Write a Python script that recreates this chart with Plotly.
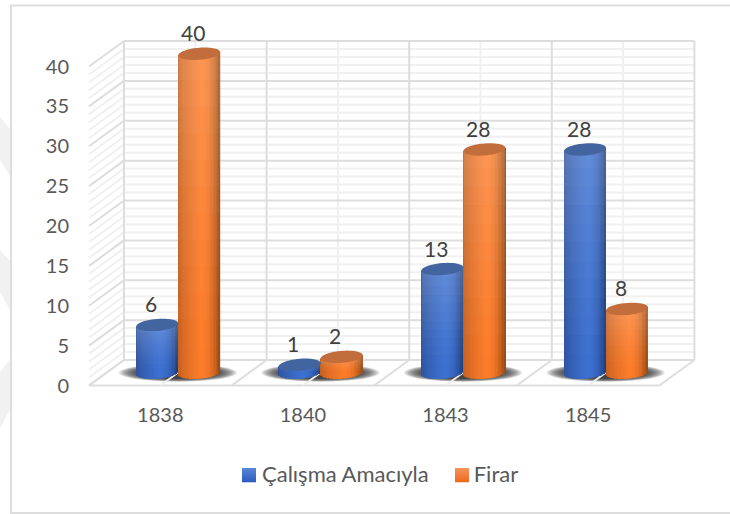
"""Kaçak işçi chart: 3D-looking cylinders on a perspective wall, built from plain bars."""
import math

import plotly.graph_objects as go

CATEGORIES = ["1838", "1840", "1843", "1845"]
CALISMA = [6, 1, 13, 28]
FIRAR = [40, 2, 28, 8]
Y_TICKS = [0, 5, 10, 15, 20, 25, 30, 35, 40]

# Pixel frame of the drawing
WIDTH, HEIGHT = 730, 514
PLOT_L, PLOT_R, PLOT_T, PLOT_B = 88, 697, 38, 389
FRONT_X0, CAT_PX = 89, 142.6
ZERO_PY, VAL_PX = 385.5, 7.975
DX = 35 / CAT_PX        # depth shift of back wall, category units
DY = 25.5 / VAL_PX      # depth shift of back wall, value units
BAR_HALF = 21 / CAT_PX
BAR_SHIFT = 0.4 / CAT_PX
CAP_H = 6 / VAL_PX
TILT = 1.6 / VAL_PX     # the ellipses lean up to the right
FONT = "Lato, Carlito, Calibri, sans-serif"

MAJOR = "#DDDDDD"
MINOR = "#F0F0F0"


def px_x(px):
    return (px - PLOT_L) / (PLOT_R - PLOT_L)


def px_y(py):
    return (PLOT_B - py) / (PLOT_B - PLOT_T)


def line(x0, y0, x1, y1, color, width=2):
    return dict(type="line", x0=x0, y0=y0, x1=x1, y1=y1, layer="below",
                line=dict(color=color, width=width))


def mix(c1, c2, t):
    return tuple(a + (b - a) * t for a, b in zip(c1, c2))


def rgb(c):
    return "rgb(%d,%d,%d)" % tuple(round(v) for v in c)


def shade(t, edge_l, mid, edge_r):
    # t runs -1..1 across the cylinder, brightest just right of the middle
    if t < 0.1:
        return rgb(mix(edge_l, mid, ((t + 1) / 1.1) ** 0.6))
    return rgb(mix(mid, edge_r, ((t - 0.1) / 0.9) ** 2.2))


def bar_center(i, side):
    return i + 0.5 + DX / 2 + side * BAR_HALF + BAR_SHIFT


def cylinder_traces(values, side, name, edge_l, mid, edge_r):
    xs, ws, bases, ys, cols = [], [], [], [], []
    n = 30
    plane = DY / 2
    for i, v in enumerate(values):
        cx = bar_center(i, side)
        for k in range(n):
            t = -1 + (2 * k + 1) / n
            curve = CAP_H * math.sqrt(1 - t * t)
            xs.append(cx + t * BAR_HALF)
            ws.append(2 * BAR_HALF / n)
            bases.append(plane - curve + TILT * t)
            ys.append(v + curve)
            cols.append(shade(t, edge_l, mid, edge_r))
    body = go.Bar(x=xs, y=ys, base=bases, width=ws, marker=dict(color=cols, line_width=0),
                  showlegend=False, hoverinfo="skip", name=name)

    # white veil, stronger at the top, gives the vertical gradient
    xs, ws, bases, ys, cols = [], [], [], [], []
    m = 12
    for i, v in enumerate(values):
        cx = bar_center(i, side)
        for k in range(m):
            xs.append(cx)
            ws.append(2 * BAR_HALF)
            bases.append(plane + v * k / m)
            ys.append(v / m)
            cols.append("rgba(255,255,255,%.3f)" % (0.2 * ((k + 0.5) / m) ** 1.3))
    veil = go.Bar(x=xs, y=ys, base=bases, width=ws, marker=dict(color=cols, line_width=0),
                  showlegend=False, hoverinfo="skip")
    return [body, veil]


def ellipse_path(cx, cy):
    pts = []
    for k in range(48):
        a = 2 * math.pi * k / 48
        pts.append(f"{cx + BAR_HALF * math.cos(a)},{cy + CAP_H * math.sin(a) + TILT * math.cos(a)}")
    return "M" + "L".join(pts) + "Z"


fig = go.Figure()
fig.add_traces(cylinder_traces(CALISMA, -1, "Çalışma Amacıyla", (44, 78, 150), (60, 112, 208), (30, 60, 122)))
fig.add_traces(cylinder_traces(FIRAR, 1, "Firar", (190, 92, 30), (252, 124, 42), (150, 72, 18)))

# legend entries only, the gradient swatches are drawn as shapes further down
for legend_name in ("Çalışma Amacıyla", "Firar"):
    fig.add_trace(go.Scatter(x=[None], y=[None], name=legend_name, mode="lines",
                             line=dict(color="rgba(0,0,0,0)", width=0)))

shapes = []

# outer frame and the faint page watermark at the far left
for pts in ([(0, 117), (11, 130), (11, 178), (0, 160)],
            [(0, 250), (11, 262), (11, 312), (0, 292)],
            [(0, 372), (11, 358), (11, 408), (0, 428)]):
    path = "M" + "L".join(f"{px_x(a)},{px_y(b)}" for a, b in pts) + "Z"
    shapes.append(dict(type="path", path=path, xref="paper", yref="paper", layer="below",
                       fillcolor="#F1F1F1", line_width=0))
shapes.append(dict(type="rect", xref="paper", yref="paper", layer="below",
                   x0=px_x(11), x1=px_x(740), y0=px_y(5.5), y1=px_y(513),
                   line=dict(color="#DDDDDD", width=2), fillcolor="white"))

# minor wall lines first so the major ones sit on top
for v in range(41):
    if v % 5:
        shapes.append(line(0, v, DX, v + DY, MINOR))
        shapes.append(line(DX, v + DY, 4 + DX, v + DY, MINOR))
for c in range(4):
    shapes.append(line(c + 0.5 + DX, DY, c + 0.5 + DX, 40 + DY, MINOR))
for v in Y_TICKS:
    shapes.append(line(0, v, DX, v + DY, MAJOR))
    shapes.append(line(DX, v + DY, 4 + DX, v + DY, MAJOR))
for c in range(5):
    shapes.append(line(c + DX, DY, c + DX, 40 + DY, MAJOR))
    shapes.append(line(c, 0, c + DX, DY, MAJOR))
shapes.append(line(0, 0, 4, 0, MAJOR))

# soft floor shadow under each pair of cylinders
for i in range(len(CATEGORIES)):
    cx = i + 0.5 + DX / 2
    for s in range(14):
        f = 1 - s * 0.03
        shapes.append(dict(type="circle", layer="below", x0=cx - 59 / CAT_PX * f, x1=cx + 59 / CAT_PX * f,
                           y0=DY / 2 - 9 / VAL_PX * f, y1=DY / 2 + 9 / VAL_PX * f,
                           fillcolor="rgba(35,35,35,0.13)", line_width=0))
    shapes.append(line(i + 0.5, 0, i + 0.5 + DX, DY, "#EDEDED"))

# cylinder tops, drawn over the bars
for values, side, color in ((CALISMA, -1, "#42659F"), (FIRAR, 1, "#C26D3C")):
    for i, v in enumerate(values):
        shapes.append(dict(type="path", layer="above", path=ellipse_path(bar_center(i, side), DY / 2 + v),
                           fillcolor=color, line_width=0))

# legend swatches
for x0, top, bottom in ((242, (88, 134, 214), (44, 94, 190)), (455, (246, 146, 92), (238, 108, 30))):
    for k in range(14):
        shapes.append(dict(type="rect", xref="paper", yref="paper", layer="above",
                           x0=px_x(x0), x1=px_x(x0 + 14), y0=px_y(468 + k), y1=px_y(469.3 + k),
                           fillcolor=rgb(mix(top, bottom, k / 13)), line_width=0))

annotations = []
for values, side in ((CALISMA, -1), (FIRAR, 1)):
    for i, v in enumerate(values):
        annotations.append(dict(x=bar_center(i, side), y=DY / 2 + v, text=str(v),
                                showarrow=False, xshift=-6.5, yshift=21,
                                font=dict(family=FONT, size=21, color="#404040")))

fig.update_layout(
    width=WIDTH,
    height=HEIGHT,
    autosize=False,
    paper_bgcolor="white",
    plot_bgcolor="rgba(0,0,0,0)",
    barmode="overlay",
    margin=dict(l=PLOT_L, r=WIDTH - PLOT_R, t=PLOT_T, b=HEIGHT - PLOT_B, pad=0),
    font=dict(family=FONT, size=20, color="#595959"),
    shapes=shapes,
    annotations=annotations,
    legend=dict(orientation="h", x=px_x(222), y=px_y(453), xanchor="left", yanchor="top",
                font=dict(family=FONT, size=22, color="#595959"), bgcolor="rgba(0,0,0,0)"),
    xaxis=dict(
        range=[(PLOT_L - FRONT_X0) / CAT_PX, (PLOT_R - FRONT_X0) / CAT_PX],
        tickvals=[i + 0.5 for i in range(len(CATEGORIES))],
        ticktext=CATEGORIES,
        showgrid=False, zeroline=False, showline=False, ticks="",
        ticklabelstandoff=12,
    ),
    yaxis=dict(
        range=[(ZERO_PY - PLOT_B) / VAL_PX, (ZERO_PY - PLOT_T) / VAL_PX],
        tickvals=Y_TICKS,
        showgrid=False, zeroline=False, showline=False, ticks="",
        ticklabelstandoff=18,
    ),
)

fig.write_html("out.html", config=dict(displayModeBar=False), post_script="document.body.style.margin='0';")
